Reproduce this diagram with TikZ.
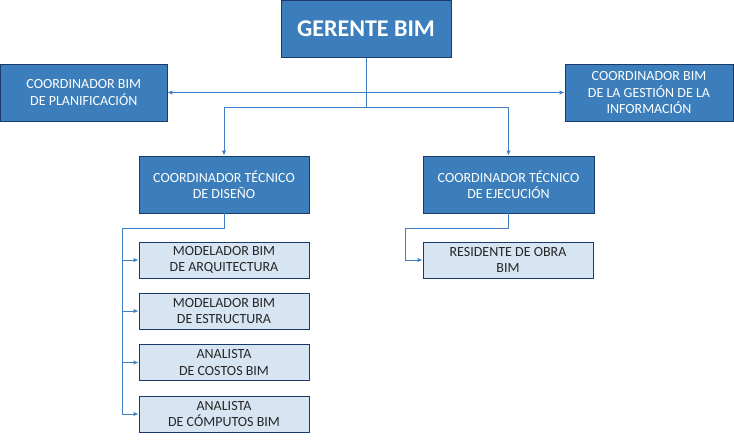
\documentclass[tikz,border=0pt]{standalone}
\usepackage{fontspec}
\setmainfont{Carlito}
\usetikzlibrary{arrows.meta}

\definecolor{boxblue}{HTML}{3B7EBB}
\definecolor{boxedge}{HTML}{1A3A6B}
\definecolor{boxlight}{HTML}{D7E5F3}
\definecolor{linkblue}{HTML}{3F80C2}

\tikzset{
  darkbox/.style={draw=boxedge, fill=boxblue, text=white, line width=0.9pt,
    align=center, inner sep=0pt, minimum width=170pt, minimum height=57pt,
    font=\fontsize{14}{16.5}\selectfont},
  lightbox/.style={draw=boxedge, fill=boxlight, text=black!85, line width=0.9pt,
    align=center, inner sep=0pt, minimum width=170pt, minimum height=36pt,
    font=\fontsize{14}{16.5}\selectfont},
  link/.style={draw=linkblue, line width=1pt, -{Latex[length=5pt,width=4.5pt]}}
}

\begin{document}
\begin{tikzpicture}[x=1pt,y=-1pt]
    \useasboundingbox (0,0) rectangle (734,440);

    \node[darkbox,font=\fontsize{24}{28}\bfseries] (GER) at (366,29) {GERENTE BIM};
    \node[darkbox,minimum width=166.5pt] (PLAN) at (83.75,92.5) {COORDINADOR BIM\\DE PLANIFICACIÓN};
    \node[darkbox,minimum width=168pt] (GEST) at (649,92.5) {COORDINADOR BIM\\DE LA GESTIÓN DE LA\\INFORMACIÓN};
    \node[darkbox] (DIS) at (224,184.5) {COORDINADOR TÉCNICO\\DE DISEÑO};
    \node[darkbox,minimum width=171pt] (EJE) at (508.5,184.5) {COORDINADOR TÉCNICO\\DE EJECUCIÓN};

    \node[lightbox] (ARQ) at (224,260) {MODELADOR BIM\\DE ARQUITECTURA};
    \node[lightbox] (EST) at (224,311) {MODELADOR BIM\\DE ESTRUCTURA};
    \node[lightbox] (COS) at (224,362.5) {ANALISTA\\DE COSTOS BIM};
    \node[lightbox] (COMP) at (224,414) {ANALISTA\\DE CÓMPUTOS BIM};
    \node[lightbox] (RES) at (508,260) {RESIDENTE DE OBRA\\BIM};

    \coordinate (dbus) at (122,228);
    \coordinate (ebus) at (405,228);

    \path[link] (GER.south) |- (PLAN.east);
    \path[link] (GER.south) |- (GEST.west);
    \path[link] (GER.south) -- ++(0,50) -| (DIS.north);
    \path[link] (GER.south) -- ++(0,50) -| (EJE.north);

    \path[link,-] (DIS.south) |- (dbus) -- (dbus |- COMP.west);
    \path[link] (dbus |- ARQ.west) -- (ARQ.west);
    \path[link] (dbus |- EST.west) -- (EST.west);
    \path[link] (dbus |- COS.west) -- (COS.west);
    \path[link] (dbus |- COMP.west) -- (COMP.west);

    \path[link] (EJE.south) |- (ebus) |- (RES.west);

\end{tikzpicture}
\end{document}
